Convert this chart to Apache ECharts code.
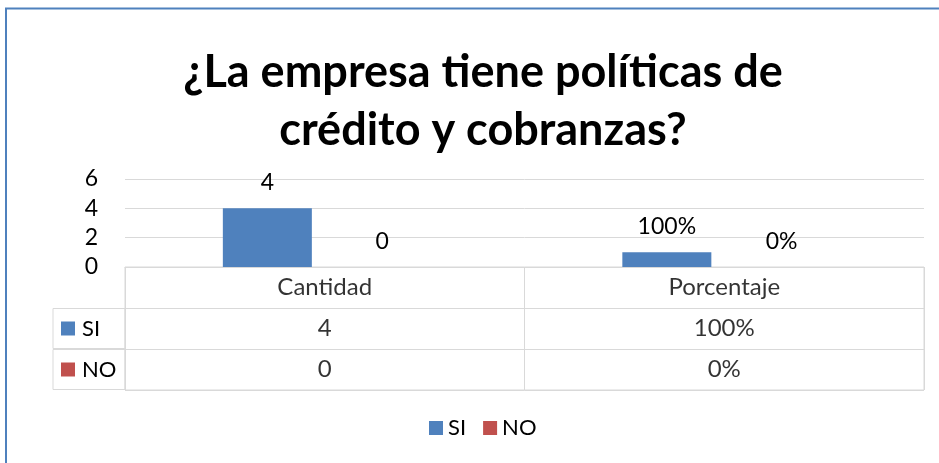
<!DOCTYPE html>
<html>
<head>
<meta charset="utf-8">
<script src="https://cdn.jsdelivr.net/npm/echarts@6/dist/echarts.min.js"></script>
<style>html,body{margin:0;padding:0;background:#fff}#c{width:939px;height:463px}</style>
</head>
<body>
<div id="c"></div>
<script>
const titleText = '¿La empresa tiene políticas de\ncrédito y cobranzas?';
const categories = ['Cantidad', 'Porcentaje'];
const seriesNames = ['SI', 'NO'];
const siValues = [4, 1];
const noValues = [0, 0];
const yTicks = [0, 2, 4, 6];
const colors = ['#4f81bd', '#c0504d'];

const FONT = 'Lato';
const fmtVal = (v, ci) => ci === 1 ? Math.round(v * 100) + '%' : String(v);
const allValues = [siValues, noValues];
const rowNames = [''].concat(seriesNames);

const cellData = [];
categories.forEach((c, ci) => {
  cellData.push({ value: [ci, 0], text: c });
  allValues.forEach((vals, si) => {
    cellData.push({ value: [ci, si + 1], text: fmtVal(vals[ci], ci) });
  });
});

const rich = { t: { fontFamily: FONT, fontSize: 22, color: '#000', padding: [0, 0, 0, 7] }, sp: { width: 8 } };
seriesNames.forEach((n, i) => { rich['sq' + (i + 1)] = { width: 14, height: 14, backgroundColor: colors[i] }; });

const chart = echarts.init(document.getElementById('c'));
chart.setOption({
  animation: false,
  color: colors,
  title: {
    text: titleText,
    left: 478, top: 38, textAlign: 'center',
    textStyle: { fontFamily: FONT, fontWeight: 'bold', fontSize: 45, color: '#000', lineHeight: 58 }
  },
  legend: {
    data: seriesNames,
    left: 429, top: 417, padding: 0,
    itemWidth: 14, itemHeight: 14, itemGap: 17,
    icon: 'rect',
    textStyle: { fontFamily: FONT, fontSize: 22, color: '#000' }
  },
  graphic: [{
    type: 'rect', shape: { x: 6, y: 8.5, width: 980, height: 500 },
    style: { fill: 'none', stroke: '#4f81bd', lineWidth: 2 }, silent: true
  }],
  grid: [
    { left: 125, right: 15, top: 179, height: 88 },
    { left: 125, right: 15, top: 267, height: 123, show: true, borderColor: '#d9d9d9', borderWidth: 1 }
  ],
  xAxis: [
    { type: 'category', gridIndex: 0, data: categories, axisLine: { lineStyle: { color: '#d9d9d9' } }, axisTick: { show: false }, axisLabel: { show: false } },
    { type: 'category', gridIndex: 1, data: categories, position: 'top', axisLine: { show: false }, axisTick: { show: false, interval: 0 }, axisLabel: { show: false, interval: 0 }, splitLine: { show: true, interval: 0, lineStyle: { color: '#d9d9d9' } } }
  ],
  yAxis: [
    { type: 'value', gridIndex: 0, min: yTicks[0], max: yTicks[yTicks.length - 1], interval: 2,
      axisLine: { show: false }, axisTick: { show: false },
      splitLine: { lineStyle: { color: '#d9d9d9' } },
      axisLabel: { margin: 27, fontFamily: FONT, fontSize: 23, color: '#000' } },
    { type: 'category', gridIndex: 1, data: rowNames, inverse: true,
      axisLine: { show: false }, axisTick: { show: false, interval: 0 },
      splitLine: { show: true, interval: 0, lineStyle: { color: '#d9d9d9' } },
      axisLabel: {
        interval: (i, v) => v !== '',
        hideOverlap: false,
        margin: 72,
        formatter: (v, i) => '{sp|}{sq' + i + '|}{t|' + v + '}',
        rich: rich,
        borderColor: '#d9d9d9', borderWidth: 1,
        width: 72, height: 40, lineHeight: 40, align: 'left', verticalAlign: 'middle'
      } }
  ],
  series: [
    { name: seriesNames[0], type: 'bar', xAxisIndex: 0, yAxisIndex: 0, data: siValues, barWidth: 89, barGap: '29%',
      label: { show: true, position: 'top', distance: 14, fontFamily: FONT, fontSize: 23, color: '#000', formatter: p => fmtVal(p.value, p.dataIndex) } },
    { name: seriesNames[1], type: 'bar', xAxisIndex: 0, yAxisIndex: 0, data: noValues, barWidth: 89, barGap: '29%',
      label: { show: true, position: 'top', distance: 14, fontFamily: FONT, fontSize: 23, color: '#000', formatter: p => fmtVal(p.value, p.dataIndex) } },
    { type: 'scatter', xAxisIndex: 1, yAxisIndex: 1, symbolSize: 0, silent: true, data: cellData,
      label: { show: true, position: 'inside', fontFamily: FONT, fontSize: 24, color: '#000', formatter: p => p.data.text } }
  ]
});
</script>
</body>
</html>
